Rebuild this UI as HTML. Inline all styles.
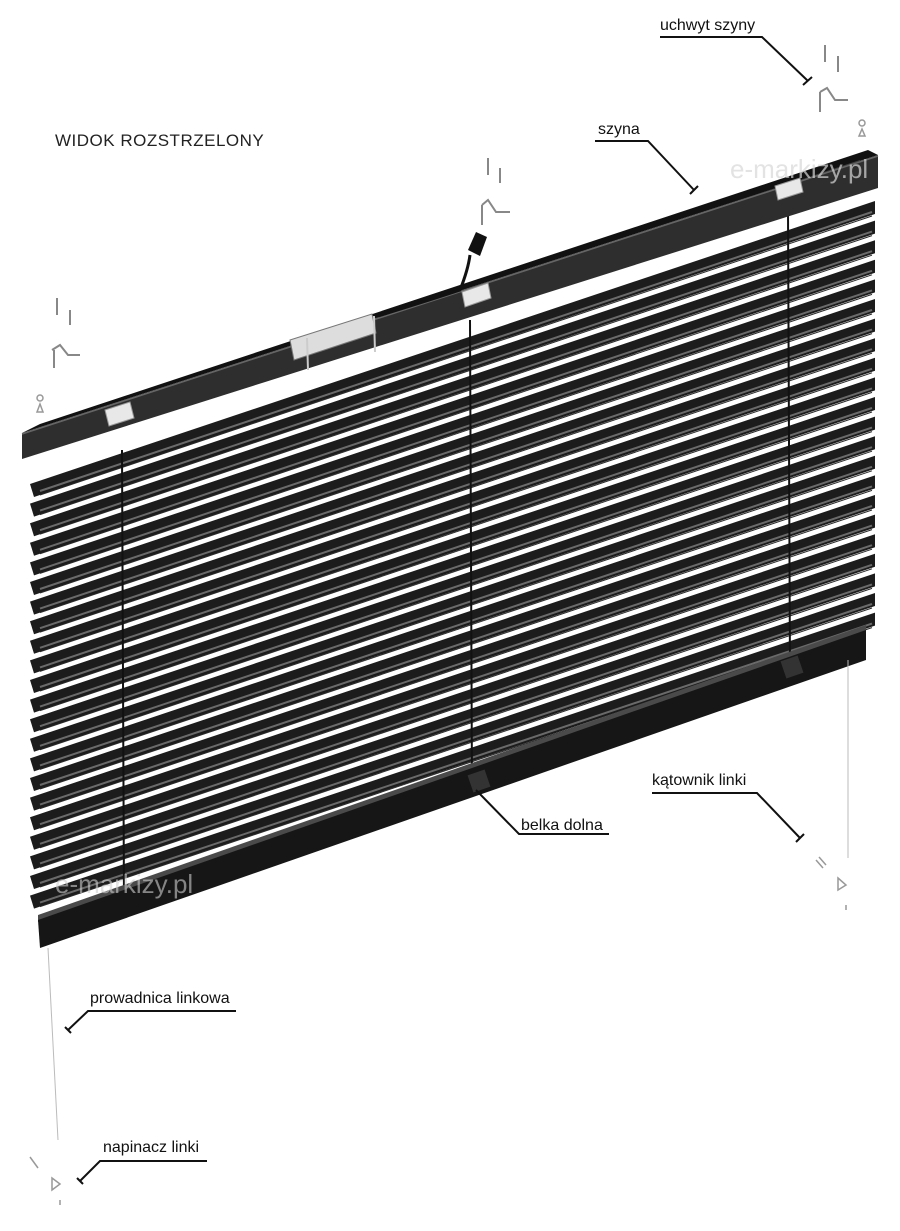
<!DOCTYPE html>
<html><head><meta charset="utf-8"><style>
html,body{margin:0;padding:0;background:#fff;}
svg{display:block}
text{font-family:"Liberation Sans",sans-serif;}
</style></head><body>
<svg width="900" height="1231" viewBox="0 0 900 1231" xmlns="http://www.w3.org/2000/svg">
<defs>
<g id="s">
<polygon points="30,0 875,-283 875,-270 34,13" fill="#1c1c1c"/>
<line x1="40" y1="7" x2="872" y2="-272" stroke="#6a6a6a" stroke-width="2"/>
<line x1="40" y1="11" x2="872" y2="-268" stroke="#2a2a2a" stroke-width="1"/>
</g>
</defs>
<rect width="900" height="1231" fill="#fff"/>
<!-- slats -->
<use href="#s" y="484"/><use href="#s" y="503.6"/><use href="#s" y="523.2"/><use href="#s" y="542.8"/>
<use href="#s" y="562.4"/><use href="#s" y="582"/><use href="#s" y="601.6"/><use href="#s" y="621.2"/>
<use href="#s" y="640.8"/><use href="#s" y="660.4"/><use href="#s" y="680"/><use href="#s" y="699.6"/>
<use href="#s" y="719.2"/><use href="#s" y="738.8"/><use href="#s" y="758.4"/><use href="#s" y="778"/>
<use href="#s" y="797.6"/><use href="#s" y="817.2"/><use href="#s" y="836.8"/><use href="#s" y="856.4"/>
<use href="#s" y="876"/><use href="#s" y="895.6"/>
<!-- cords -->
<line x1="122" y1="450" x2="124" y2="905" stroke="#111" stroke-width="2"/>
<line x1="470" y1="320" x2="472" y2="790" stroke="#111" stroke-width="2"/>
<line x1="788" y1="210" x2="790" y2="675" stroke="#111" stroke-width="2"/>
<!-- top rail -->
<polygon points="22,433 40,424 868,150 878,155" fill="#111"/>
<polygon points="60,425 860,160 862,166 62,431" fill="#444"/>
<polygon points="22,433 878,155 878,188 22,459" fill="#2e2e2e"/>
<line x1="22" y1="434" x2="878" y2="156" stroke="#666" stroke-width="1.5"/>
<!-- carriers -->
<polygon points="105,410 130,402 134,418 109,426" fill="#e8e8e8" stroke="#999"/>
<polygon points="462,292 488,283 491,298 465,307" fill="#e8e8e8" stroke="#999"/>
<polygon points="775,186 800,178 803,192 778,200" fill="#e8e8e8" stroke="#999"/>
<!-- motor -->
<polygon points="290,340 372,314 376,333 294,360" fill="#ddd" stroke="#777"/>
<line x1="307" y1="338" x2="308" y2="370" stroke="#ccc" stroke-width="2"/>
<line x1="374" y1="316" x2="375" y2="352" stroke="#ccc" stroke-width="2"/>
<path d="M378,316 Q430,300 460,290 Q468,270 470,255" stroke="#111" stroke-width="3" fill="none"/>
<polygon points="468,250 476,232 487,237 480,256" fill="#111"/>
<!-- bottom bar -->
<polygon points="38,915 866,625 866,633 38,922" fill="#4a4a4a"/>
<polygon points="38,920 866,630 866,660 40,948" fill="#161616"/>
<rect x="470" y="772" width="18" height="18" fill="#333" transform="rotate(-19 479 781)"/>
<rect x="783" y="658" width="18" height="18" fill="#333" transform="rotate(-19 792 667)"/>
<!-- guide wires -->
<line x1="48" y1="948" x2="58" y2="1140" stroke="#bbb" stroke-width="1"/>
<line x1="848" y1="660" x2="848" y2="858" stroke="#bbb" stroke-width="1"/>
<!-- brackets -->
<g fill="none" stroke="#888" stroke-width="2">
<line x1="57" y1="298" x2="57" y2="315"/><line x1="70" y1="310" x2="70" y2="325"/>
<path d="M52,350 L60,345 L68,355 L80,355" /><line x1="54" y1="350" x2="54" y2="368"/>
<line x1="488" y1="158" x2="488" y2="175"/><line x1="500" y1="168" x2="500" y2="183"/>
<path d="M482,205 L488,200 L496,212 L510,212"/><line x1="482" y1="205" x2="482" y2="225"/>
<line x1="825" y1="45" x2="825" y2="62"/><line x1="838" y1="56" x2="838" y2="72"/>
<path d="M820,92 L827,88 L835,100 L848,100"/><line x1="820" y1="92" x2="820" y2="112"/>
</g>
<g fill="none" stroke="#999" stroke-width="1.5">
<circle cx="40" cy="398" r="3"/><path d="M37,412 L40,404 L43,412 Z"/>
<circle cx="862" cy="123" r="3"/><path d="M859,136 L862,129 L865,136 Z"/>
<line x1="816" y1="860" x2="823" y2="868"/><line x1="819" y1="857" x2="826" y2="865"/>
<path d="M838,878 L846,885 L838,890 Z"/><line x1="846" y1="905" x2="846" y2="910"/>
<line x1="30" y1="1157" x2="38" y2="1168"/>
<path d="M52,1178 L60,1184 L52,1190 Z"/><line x1="60" y1="1200" x2="60" y2="1205"/>
</g>
<!-- watermark -->
<text x="730" y="178" font-size="26" fill="#d8d8d8" opacity="0.7">e-markizy.pl</text>
<text x="55" y="893" font-size="26" fill="#cfcfcf" opacity="0.6">e-markizy.pl</text>
<!-- labels -->
<text x="55" y="146" font-size="17" fill="#222" letter-spacing="0.5">WIDOK ROZSTRZELONY</text>
<g fill="#111" font-size="16">
<text x="660" y="30">uchwyt szyny</text>
<text x="598" y="134">szyna</text>
<text x="652" y="785">kątownik linki</text>
<text x="521" y="830">belka dolna</text>
<text x="90" y="1003">prowadnica linkowa</text>
<text x="103" y="1152">napinacz linki</text>
</g>
<g stroke="#111" stroke-width="2" fill="none">
<path d="M660,37 L762,37 L808,81"/><path d="M803,85 L812,77"/>
<path d="M595,141 L648,141 L694,190"/><path d="M690,194 L698,186"/>
<path d="M652,793 L757,793 L800,838"/><path d="M796,842 L804,834"/>
<path d="M609,834 L519,834 L476,790"/>
<path d="M236,1011 L88,1011 L68,1030"/><path d="M65,1027 L71,1033"/>
<path d="M207,1161 L100,1161 L80,1181"/><path d="M77,1178 L83,1184"/>
</g>
</svg>
</body></html>
